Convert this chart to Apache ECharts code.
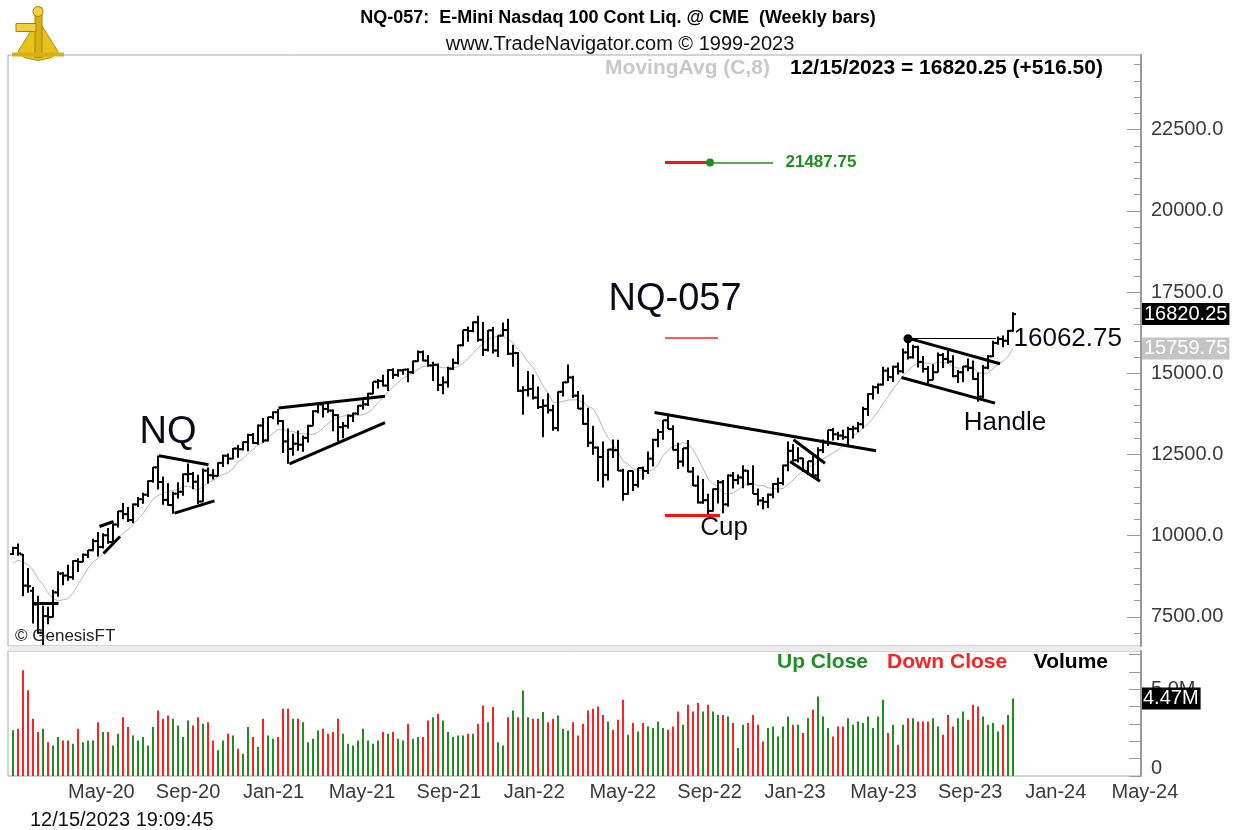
<!DOCTYPE html>
<html>
<head>
<meta charset="utf-8">
<title>NQ-057 Weekly bars</title>
<script src="https://cdn.jsdelivr.net/npm/echarts@6.0.0/dist/echarts.min.js"></script>
<style>
  html, body { margin: 0; padding: 0; background: #fff; }
  #chart { width: 1236px; height: 830px; }
</style>
</head>
<body>
<div id="chart"></div>
<script>
// weekly bars, one per Friday, starting 2020-02-14
const firstWeek = Date.UTC(2020, 1, 14);

const opens = [
  9430, 9620, 9420, 8460, 8300, 7880, 7010, 7520, 7490, 8250,
  8830, 8770, 8720, 9220, 9190, 9410, 9550, 9830, 9650, 10010,
  9800, 10340, 10750, 10660, 10480, 10960, 11120, 11260, 11680, 12100,
  11650, 11100, 10940, 11290, 11350, 11890, 11900, 11660, 11050, 12000,
  11860, 11840, 12240, 12460, 12370, 12680, 12660, 12880, 13100, 12850,
  13390, 12930, 13650, 13800, 13530, 12900, 12670, 12830, 12800, 13010,
  13380, 13830, 14040, 13900, 13850, 13710, 13340, 13380, 13690, 13760,
  14000, 14040, 14370, 14740, 14760, 14620, 15100, 14950, 15090, 15110,
  15030, 15370, 15650, 15390, 15240, 15260, 14640, 14720, 15140, 15320,
  15860, 16330, 16300, 16570, 16030, 15720, 16320, 15700, 16160, 16330,
  15600, 15620, 14460, 14480, 14520, 14250, 13960, 14000, 13860, 13310,
  14430, 14720, 14870, 14310, 13910, 13440, 12860, 12710, 12420, 11870,
  12650, 12630, 12000, 11280, 11990, 11560, 12080, 11990, 12370, 12950,
  13190, 13550, 13280, 12640, 12280, 12690, 11970, 11540, 11020, 11090,
  10760, 11430, 11640, 10960, 11850, 11710, 11790, 12000, 11590, 11280,
  11080, 11040, 11260, 11590, 11620, 12160, 12610, 12320, 12380, 11990,
  12290, 11850, 12630, 12870, 13250, 13120, 13080, 13030, 13280, 13300,
  13430, 13900, 14360, 14570, 14650, 15080, 14880, 15200, 15060, 15640,
  15490, 15810, 15350, 15130, 14790, 15030, 15560, 15440, 15360, 14910,
  15030, 15210, 15160, 14820, 14280, 15170, 15520, 15930, 16054, 16000,
  16310
];
const highs = [
  9660, 9760, 9430, 9000, 8420, 8150, 7840, 7810, 8330, 8900,
  8880, 9100, 9240, 9300, 9450, 9560, 9900, 10110, 10070, 10230,
  10370, 10760, 11000, 10880, 10990, 11190, 11320, 11700, 12110, 12470,
  11820, 11610, 11350, 11640, 11910, 12220, 11960, 11870, 12070, 12100,
  12040, 12250, 12490, 12530, 12700, 12790, 12900, 13140, 13160, 13420,
  13620, 13660, 13830, 13900, 13560, 13300, 13140, 13240, 13080, 13410,
  13860, 14060, 14070, 14070, 13880, 13740, 13500, 13730, 13780, 14020,
  14170, 14400, 14740, 14820, 14950, 15120, 15150, 15120, 15130, 15150,
  15390, 15700, 15700, 15560, 15350, 15300, 14900, 15200, 15450, 15880,
  16340, 16440, 16590, 16770, 16580, 16330, 16420, 16170, 16560, 16680,
  15880, 15650, 14600, 15070, 14960, 14590, 14200, 14380, 14030, 14440,
  14740, 15270, 14920, 14450, 14340, 13940, 13380, 12740, 12900, 12670,
  12960, 12950, 12060, 12000, 12000, 12080, 12130, 12590, 12980, 13280,
  13560, 13720, 13400, 12860, 12700, 12940, 12110, 11850, 11740, 11290,
  11450, 11710, 11710, 11880, 11960, 11880, 12170, 12020, 12170, 11450,
  11190, 11300, 11620, 11780, 12180, 12900, 12820, 12720, 12400, 12300,
  12470, 12720, 12960, 13260, 13310, 13200, 13260, 13350, 13380, 13500,
  13970, 14380, 14620, 14680, 15200, 15180, 15230, 15330, 15760, 16062.75,
  15880, 15850, 15530, 15220, 15280, 15640, 15620, 15700, 15550, 15100,
  15220, 15450, 15390, 15020, 15250, 15560, 16000, 16130, 16160, 16330,
  16880
];
const lows = [
  9400, 9380, 8130, 8240, 7290, 6980, 6630, 7270, 7480, 8120,
  8470, 8610, 8640, 8880, 9180, 9310, 9520, 9360, 9600, 9750,
  9770, 10250, 10500, 10420, 10380, 10880, 10980, 11190, 11630, 11420,
  10950, 10920, 10670, 11140, 11230, 11640, 11430, 10970, 11040, 11600,
  11730, 11830, 12110, 12200, 12350, 12400, 12620, 12600, 12830, 12800,
  12860, 12900, 13580, 13420, 12540, 12210, 12460, 12610, 12580, 12870,
  13370, 13770, 13640, 13780, 13210, 12900, 13000, 13300, 13500, 13710,
  13880, 13990, 14350, 14530, 14590, 14450, 14820, 14890, 14950, 14720,
  14980, 15350, 15370, 15200, 14760, 14450, 14350, 14560, 15100, 15270,
  15830, 15970, 16260, 15970, 15530, 15670, 15610, 15500, 16140, 15560,
  15200, 14420, 13720, 14280, 14190, 13900, 13030, 13760, 13230, 13210,
  14280, 14700, 14240, 13900, 13410, 12730, 12490, 11670, 11480, 11700,
  12390, 11990, 11070, 11260, 11370, 11480, 11720, 11900, 12130, 12720,
  12950, 13280, 12630, 12050, 12120, 11950, 11530, 10990, 10980, 10580,
  10740, 10990, 10690, 10890, 11450, 11570, 11460, 11540, 11280, 10930,
  10810, 10850, 11150, 11320, 11550, 11980, 12280, 12250, 11960, 11870,
  11780, 11720, 12540, 12760, 12930, 12940, 12950, 12760, 12990, 13180,
  13300, 13680, 14190, 14370, 14620, 14760, 14730, 14960, 15000, 15420,
  15450, 15180, 15020, 14680, 14780, 15020, 15160, 15300, 14880, 14700,
  14720, 15060, 14800, 14120, 14230, 15120, 15500, 15880, 15800, 15870,
  16280
];
const closes = [
  9620, 9450, 8460, 8440, 7880, 7010, 7520, 7490, 8250, 8830,
  8770, 8720, 9220, 9190, 9410, 9550, 9830, 9650, 10010, 9800,
  10340, 10750, 10660, 10480, 10960, 11120, 11260, 11680, 12100, 11650,
  11100, 10940, 11290, 11350, 11890, 11900, 11660, 11050, 12000, 11860,
  11840, 12240, 12460, 12370, 12680, 12660, 12880, 13100, 12850, 13390,
  12930, 13650, 13800, 13530, 12900, 12670, 12830, 12800, 13010, 13380,
  13830, 14040, 13900, 13850, 13710, 13340, 13380, 13690, 13760, 14000,
  14040, 14370, 14740, 14760, 14620, 15100, 14950, 15090, 15110, 15030,
  15370, 15650, 15390, 15240, 15260, 14640, 14720, 15140, 15320, 15860,
  16330, 16300, 16570, 16030, 15720, 16320, 15700, 16160, 16330, 15600,
  15620, 14460, 14480, 14520, 14250, 13960, 14000, 13860, 13310, 14430,
  14720, 14870, 14310, 13910, 13440, 12860, 12710, 12420, 11870, 12650,
  12630, 12000, 11280, 11990, 11560, 12080, 11990, 12370, 12950, 13190,
  13550, 13280, 12640, 12280, 12690, 11970, 11540, 11020, 11090, 10760,
  11430, 11640, 10960, 11850, 11710, 11790, 12000, 11590, 11280, 11080,
  11040, 11260, 11590, 11620, 12160, 12610, 12320, 12380, 11990, 12290,
  11850, 12630, 12870, 13250, 13120, 13080, 13030, 13280, 13300, 13430,
  13900, 14360, 14570, 14650, 15080, 14880, 15200, 15060, 15640, 15490,
  15810, 15350, 15130, 14790, 15030, 15560, 15440, 15360, 14910, 15030,
  15210, 15160, 14820, 14280, 15170, 15520, 15930, 16054, 16000, 16303.75,
  16820.25
];
// contracts traded, millions
const volumes = [
  2.64, 2.72, 6.09, 4.94, 3.30, 2.53, 2.72, 1.95, 1.76, 2.24,
  2.05, 2.05, 1.86, 2.72, 1.95, 2.05, 2.05, 3.10, 2.53, 2.53,
  1.76, 2.43, 3.39, 2.82, 2.34, 2.05, 2.24, 1.76, 2.82, 3.77,
  3.30, 3.49, 3.30, 2.91, 2.24, 3.20, 2.91, 3.39, 3.01, 3.10,
  2.05, 1.48, 2.05, 2.43, 2.34, 1.57, 1.28, 2.82, 2.24, 1.67,
  3.30, 2.34, 2.15, 2.24, 3.87, 3.87, 3.30, 3.30, 3.10, 1.95,
  2.15, 2.62, 2.72, 2.43, 2.53, 3.30, 2.43, 1.86, 1.76, 2.05,
  2.72, 2.05, 1.86, 2.05, 2.53, 2.43, 2.53, 2.15, 2.05, 3.01,
  2.15, 2.24, 2.24, 3.20, 3.39, 3.58, 3.20, 2.53, 2.24, 2.34,
  2.34, 2.43, 2.43, 3.01, 4.06, 3.10, 3.97, 1.95, 1.76, 3.39,
  3.77, 3.39, 4.92, 3.39, 3.30, 3.30, 3.68, 3.10, 3.30, 3.49,
  2.72, 2.62, 3.10, 2.34, 3.01, 3.77, 3.87,
  4.00, 3.52, 3.14, 2.66, 3.24, 4.39, 2.38, 3.05, 2.57, 3.05,
  2.85, 2.76, 3.14, 2.76, 2.66, 2.85, 3.72, 2.95, 4.10, 3.72,
  4.20, 3.72, 4.10, 3.72, 3.52, 3.52, 3.43, 3.05, 1.61, 2.95,
  3.05, 3.52, 2.95, 1.99, 2.76, 2.85, 2.28, 2.85, 3.43, 2.95,
  2.95, 2.47, 3.33, 3.81, 4.58, 3.43, 2.76, 2.28, 2.85, 2.85,
  3.33, 2.95, 3.14, 3.05, 3.43, 2.76, 3.43, 4.39, 2.47, 2.95,
  1.80, 2.95, 3.33, 3.33, 3.14, 3.14, 3.14, 3.33, 2.85, 2.38,
  3.52, 2.85, 3.33, 3.72, 3.24, 4.10, 4.00, 3.43, 2.95, 3.05,
  2.57, 2.95, 3.52, 4.47
];
// weekly closes before the first bar, only used to seed the 8 bar average
const priorCloses = [8800, 8850, 9060, 9250, 9170, 8990, 9500];

const priceTicks = [7500, 10000, 12500, 15000, 17500, 20000, 22500];
const volTicks = [0, 1, 2, 3, 4, 5, 6, 7];
const volLabels = [0, 5];
const monthTicks = ['2020-05-01', '2020-09-01', '2021-01-01', '2021-05-01', '2021-09-01',
  '2022-01-01', '2022-05-01', '2022-09-01', '2023-01-01', '2023-05-01', '2023-09-01',
  '2024-01-01', '2024-05-01'];

// drawn studies, anchored at [bar index, price]
const trendLines = [
  [[4.0, 7930], [9.1, 7930]],
  [[17.3, 10280], [20.1, 10435]],
  [[18.1, 9450], [21.4, 9970]],
  [[29.2, 12460], [39.1, 12180]],
  [[32.3, 10690], [40.3, 11070]],
  [[53.1, 13930], [74.4, 14290]],
  [[55.3, 12210], [74.4, 13480]],
  [[128.3, 13790], [172.6, 12610]],
  [[156.1, 12950], [162.4, 12230]],
  [[155.4, 12280], [161.4, 11670]],
  [[179.7, 16050], [197.4, 15290]],
  [[177.7, 14870], [196.4, 14080]]
];
const handleHigh = 16062.75;
const targetPrice = 21487.75;
const cupLow = 10640;
const titleMark = 16090;
const notes = [
  { text: 'NQ', at: 31, price: 13170, size: 38 },
  { text: 'NQ-057', at: 132.4, price: 17260, size: 38 },
  { text: 'Cup', at: 142.2, price: 10240, size: 26 },
  { text: 'Handle', at: 198.4, price: 13475, size: 26 }
];

const WEEK = 7 * 24 * 3600 * 1000;
const FONT = "'Liberation Sans', Arial, sans-serif";
const MON = ['Jan', 'Feb', 'Mar', 'Apr', 'May', 'Jun', 'Jul', 'Aug', 'Sep', 'Oct', 'Nov', 'Dec'];
const UP = '#1e8f1e';
const DOWN = '#ff2020';
const HIDDEN_LINE = { color: 'rgba(0,0,0,0)', width: 0 };

function weekTime(i) {
  return firstWeek + i * WEEK;
}
function toTime(s) {
  const p = s.split('-').map(Number);
  return Date.UTC(p[0], p[1] - 1, p[2]);
}

const last = closes.length - 1;
const bars = closes.map((c, i) => [weekTime(i), opens[i], highs[i], lows[i], c]);

const allCloses = priorCloses.concat(closes);
const movingAvg = closes.map((c, i) => {
  let s = 0;
  for (let k = 0; k < 8; k++) s += allCloses[i + 7 - k];
  return [weekTime(i), s / 8];
});

const volumeData = volumes.map((v, i) => ({
  value: [weekTime(i), v],
  itemStyle: { color: closes[i] >= allCloses[i + 6] ? UP : DOWN }
}));

const lastClose = closes[last];
const change = lastClose - closes[last - 1];
const lastMa = movingAvg[last][1];
const d = new Date(weekTime(last));
const lastDate = String(d.getUTCMonth() + 1).padStart(2, '0') + '/' +
  String(d.getUTCDate()).padStart(2, '0') + '/' + d.getUTCFullYear();

const xMin = weekTime(-1);
const xMax = weekTime(225.6);

const chart = echarts.init(document.getElementById('chart'));

function seg(a, b, color, width) {
  return {
    coords: [[weekTime(a[0]), a[1]], [weekTime(b[0]), b[1]]],
    lineStyle: { color: color, width: width, opacity: 1, curveness: 0 }
  };
}

const studyLines = trendLines.map(l => seg(l[0], l[1], '#000', 3));
studyLines.push(seg([179.4, handleHigh], [196.6, handleHigh], '#000', 1));
studyLines.push(seg([130.4, titleMark], [141, titleMark], '#ff2020', 1.5));
studyLines.push(seg([130.4, cupLow], [141.4, cupLow], '#ff1010', 3));
studyLines.push(seg([130.4, targetPrice], [139.4, targetPrice], '#ff1010', 3));
studyLines.push(seg([139.4, targetPrice], [152, targetPrice], '#1e8f1e', 1.5));

const noteData = notes.map(n => ({
  value: [weekTime(n.at), n.price],
  label: { formatter: n.text, fontSize: n.size, position: 'inside' }
}));
noteData.push({
  value: [weekTime(200), handleHigh],
  label: { formatter: handleHigh.toFixed(2), fontSize: 26, position: 'right', distance: 0 }
});
noteData.push({
  value: [weekTime(154.4), targetPrice],
  label: { formatter: targetPrice.toFixed(2), fontSize: 17, fontWeight: 'bold',
    color: '#1e8f1e', position: 'right', distance: 0 }
});

function headerText(x, y, text, size, weight, color, align) {
  return {
    type: 'text', x: x, y: y, silent: true, z: 10,
    style: { text: text, fontSize: size, fontWeight: weight, fontFamily: FONT,
      fill: color, align: align, verticalAlign: 'middle' }
  };
}

const option = {
  animation: false,
  backgroundColor: '#fff',
  textStyle: { fontFamily: FONT },
  grid: [
    { left: 8, top: 55, width: 1133, height: 591, show: true, borderColor: '#a8a8a8', borderWidth: 1 },
    { left: 8, top: 651, width: 1133, height: 125, show: true, borderColor: '#a8a8a8', borderWidth: 1 }
  ],
  xAxis: [
    { type: 'value', gridIndex: 0, min: xMin, max: xMax, show: false },
    {
      type: 'value', gridIndex: 1, min: xMin, max: xMax,
      axisLine: { show: false }, axisTick: { show: false }, splitLine: { show: false },
      axisLabel: {
        customValues: monthTicks.map(toTime),
        formatter: v => {
          const t = new Date(v);
          return MON[t.getUTCMonth()] + '-' + String(t.getUTCFullYear()).slice(2);
        },
        align: 'left', margin: 6, fontSize: 20, color: '#3a3a3a', fontFamily: FONT
      }
    }
  ],
  yAxis: [
    {
      type: 'value', gridIndex: 0, position: 'right', min: 6600, max: 24800,
      axisLine: { show: true, lineStyle: { color: '#9a9a9a', width: 2 } },
      axisTick: { show: true, inside: true, length: 14, customValues: priceTicks,
        lineStyle: { color: '#9a9a9a', width: 1 } },
      axisLabel: {
        customValues: priceTicks, margin: 10, fontSize: 20, color: '#3a3a3a', fontFamily: FONT,
        formatter: v => (v < 10000 ? v.toFixed(2) : v.toFixed(1))
      },
      splitLine: { show: false }
    },
    {
      type: 'value', gridIndex: 0, position: 'right', min: 6600, max: 24800,
      axisLine: { show: false },
      axisTick: {
        show: true, inside: true, length: 7,
        customValues: Array.from({ length: 36 }, (_, k) => 7000 + k * 500).filter(v => v % 2500 !== 0),
        lineStyle: { color: '#9a9a9a', width: 1 }
      },
      axisLabel: { show: false },
      splitLine: { show: false }
    },
    {
      type: 'value', gridIndex: 1, position: 'right', min: 0, max: 7.2,
      axisLine: { show: true, lineStyle: { color: '#9a9a9a', width: 2 } },
      axisTick: { show: true, inside: true, length: 12, customValues: volTicks,
        lineStyle: { color: '#9a9a9a', width: 1 } },
      axisLabel: {
        customValues: volLabels, margin: 10, fontSize: 20, color: '#3a3a3a', fontFamily: FONT,
        formatter: v => (v === 0 ? '{zero|0}' : v.toFixed(1) + 'M'),
        rich: { zero: { fontSize: 20, fontFamily: FONT, color: '#3a3a3a', padding: [0, 0, 16, 0] } }
      },
      splitLine: { show: false }
    }
  ],
  series: [
    {
      name: 'MovingAvg', type: 'line', xAxisIndex: 0, yAxisIndex: 0,
      data: movingAvg, symbol: 'none', silent: true, z: 1,
      lineStyle: { color: '#b8b8b8', width: 1 }
    },
    {
      name: 'NQ', type: 'custom', xAxisIndex: 0, yAxisIndex: 0, z: 2,
      data: bars,
      encode: { x: 0, y: [1, 2, 3, 4] },
      renderItem: (params, api) => {
        const t = api.value(0);
        const pO = api.coord([t, api.value(1)]);
        const pH = api.coord([t, api.value(2)]);
        const pL = api.coord([t, api.value(3)]);
        const pC = api.coord([t, api.value(4)]);
        const x = Math.round(pH[0]);
        const style = { stroke: '#000', lineWidth: 2 };
        return {
          type: 'group',
          children: [
            { type: 'line', shape: { x1: x, y1: pH[1], x2: x, y2: pL[1] }, style },
            { type: 'line', shape: { x1: x - 3, y1: pO[1], x2: x, y2: pO[1] }, style },
            { type: 'line', shape: { x1: x, y1: pC[1], x2: x + 3, y2: pC[1] }, style }
          ]
        };
      }
    },
    {
      name: 'studies', type: 'lines', coordinateSystem: 'cartesian2d',
      xAxisIndex: 0, yAxisIndex: 0, polyline: false, silent: true, z: 3,
      lineStyle: { opacity: 1 },
      data: studyLines
    },
    {
      name: 'dots', type: 'scatter', xAxisIndex: 0, yAxisIndex: 0, silent: true, z: 4,
      itemStyle: { opacity: 1 },
      data: [
        { value: [weekTime(179), handleHigh], symbolSize: 9, itemStyle: { color: '#000' } },
        { value: [weekTime(139.4), targetPrice], symbolSize: 8, itemStyle: { color: '#1e8f1e' } }
      ]
    },
    {
      name: 'notes', type: 'scatter', xAxisIndex: 0, yAxisIndex: 0, silent: true, z: 5,
      symbolSize: 1, itemStyle: { color: 'rgba(0,0,0,0)', opacity: 1 },
      label: { show: true, color: '#0a0a1a', fontFamily: FONT },
      data: noteData
    },
    {
      // last price and last average, tagged on the price scale
      name: 'tags', type: 'line', xAxisIndex: 0, yAxisIndex: 0, data: [], silent: true, z: 6,
      markLine: {
        silent: true, symbol: 'none',
        lineStyle: HIDDEN_LINE,
        label: { show: true, position: 'end', distance: 1, fontSize: 20, fontFamily: FONT, padding: [2, 2, 0, 2] },
        data: [
          { yAxis: lastClose, lineStyle: HIDDEN_LINE,
            label: { formatter: lastClose.toFixed(2), backgroundColor: '#000', color: '#fff' } },
          { yAxis: lastMa, lineStyle: HIDDEN_LINE,
            label: { formatter: lastMa.toFixed(2), backgroundColor: '#c4c4c4', color: '#fff' } }
        ]
      }
    },
    {
      name: 'Volume', type: 'bar', xAxisIndex: 1, yAxisIndex: 2,
      data: volumeData, barWidth: 2, silent: true,
      markLine: {
        silent: true, symbol: 'none',
        lineStyle: HIDDEN_LINE,
        label: { show: true, position: 'end', distance: 1, fontSize: 20, fontFamily: FONT, padding: [2, 2, 0, 1],
          backgroundColor: '#000', color: '#fff', formatter: volumes[last].toFixed(2) + 'M' },
        data: [{ yAxis: volumes[last], lineStyle: HIDDEN_LINE }]
      }
    }
  ],
  graphic: [
    { type: 'rect', left: 8, top: 646, shape: { width: 1133, height: 5 }, style: { fill: '#ececec' }, silent: true },
    {
      type: 'group', left: 12, top: 6, silent: true,
      children: [
        { type: 'polygon', shape: { points: [[26, 14], [6, 46], [12, 52], [26, 55], [40, 52], [46, 46]] },
          style: { fill: '#e6c21e', stroke: '#b38d0c', lineWidth: 1 } },
        { type: 'rect', shape: { x: 23, y: 2, width: 7, height: 50 }, style: { fill: '#d8b012', stroke: '#a88208' } },
        { type: 'rect', shape: { x: 4, y: 18, width: 20, height: 8 }, style: { fill: '#f0d040', stroke: '#a88208' } },
        { type: 'circle', shape: { cx: 26, cy: 6, r: 5 }, style: { fill: '#f0d040', stroke: '#a88208' } },
        { type: 'rect', shape: { x: 0, y: 47, width: 52, height: 4 }, style: { fill: '#d8b012' } }
      ]
    },
    headerText(618, 18, 'NQ-057:  E-Mini Nasdaq 100 Cont Liq. @ CME  (Weekly bars)', 18, 'bold', '#000', 'center'),
    headerText(620, 44, 'www.TradeNavigator.com \u00a9 1999-2023', 20, 'normal', '#111', 'center'),
    headerText(770, 68, 'MovingAvg (C,8)', 21, 'bold', '#c8c8c8', 'right'),
    headerText(790, 68, lastDate + ' = ' + lastClose.toFixed(2) + ' (+' + change.toFixed(2) + ')', 21, 'bold', '#000', 'left'),
    headerText(15, 636, '\u00a9 GenesisFT', 17, 'normal', '#222', 'left'),
    headerText(777, 662, 'Up Close', 21, 'bold', UP, 'left'),
    headerText(887, 662, 'Down Close', 21, 'bold', DOWN, 'left'),
    headerText(1108, 662, 'Volume', 21, 'bold', '#000', 'right'),
    headerText(30, 820, lastDate + ' 19:09:45', 20, 'normal', '#111', 'left')
  ]
};

chart.setOption(option);
</script>
</body>
</html>
